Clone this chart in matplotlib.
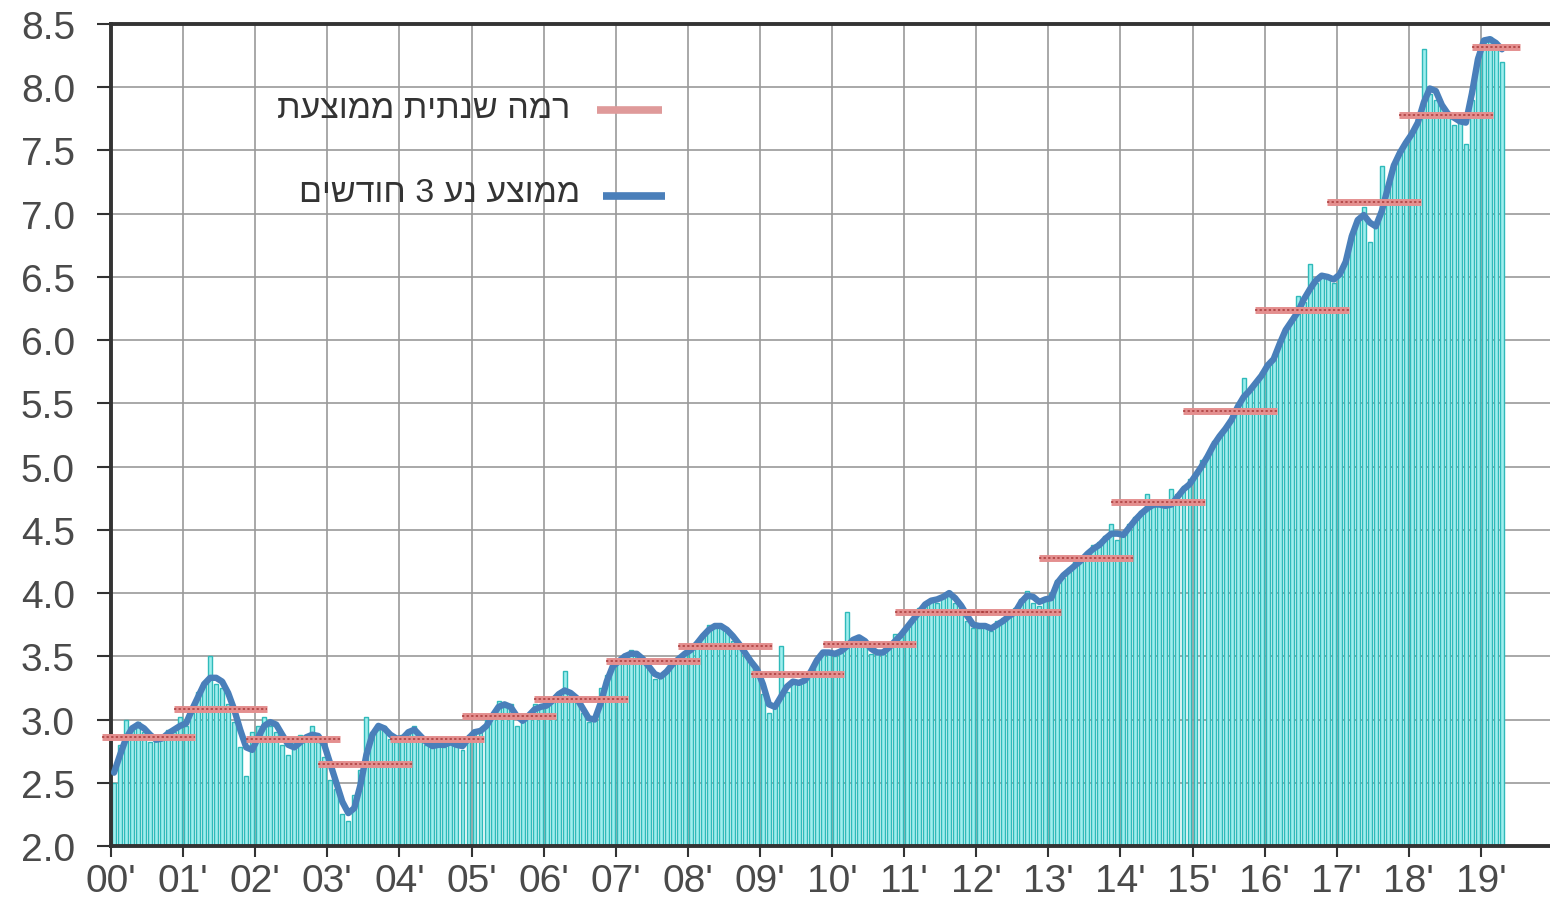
import matplotlib
matplotlib.use("Agg")
import matplotlib.pyplot as plt
from matplotlib.lines import Line2D
import numpy as np

# ---------------- data ----------------
years = list(range(2000, 2020))
year_labels = ["00'", "01'", "02'", "03'", "04'", "05'", "06'", "07'", "08'", "09'",
               "10'", "11'", "12'", "13'", "14'", "15'", "16'", "17'", "18'", "19'"]

# monthly values, Jan 2000 .. Apr 2019
monthly = [
    2.50, 2.80, 3.00, 2.95, 2.98, 2.90, 2.82, 2.85, 2.88, 2.92, 2.90, 3.02,   # 2000
    2.95, 3.05, 3.22, 3.30, 3.50, 3.28, 3.25, 3.12, 2.98, 2.78, 2.55, 2.90,   # 2001
    2.95, 3.02, 2.95, 2.90, 2.80, 2.72, 2.82, 2.88, 2.85, 2.95, 2.82, 2.70,   # 2002
    2.52, 2.45, 2.25, 2.20, 2.40, 2.60, 3.02, 2.90, 2.92, 2.95, 2.85, 2.82,   # 2003
    2.88, 2.92, 2.95, 2.85, 2.80, 2.78, 2.82, 2.78, 2.84, 2.80, 2.76, 2.88,   # 2004
    2.92, 2.90, 3.00, 3.05, 3.15, 3.10, 3.12, 2.95, 3.00, 3.05, 3.12, 3.10,   # 2005
    3.12, 3.18, 3.22, 3.38, 3.15, 3.18, 3.05, 2.98, 3.00, 3.25, 3.35, 3.45,   # 2006
    3.48, 3.52, 3.55, 3.50, 3.45, 3.40, 3.32, 3.35, 3.40, 3.45, 3.50, 3.52,   # 2007
    3.55, 3.62, 3.68, 3.75, 3.72, 3.75, 3.70, 3.62, 3.58, 3.50, 3.45, 3.35,   # 2008
    3.20, 3.05, 3.12, 3.58, 3.22, 3.30, 3.28, 3.32, 3.40, 3.48, 3.55, 3.52,   # 2009
    3.50, 3.55, 3.85, 3.62, 3.62, 3.60, 3.52, 3.55, 3.55, 3.58, 3.68, 3.65,   # 2010
    3.72, 3.80, 3.88, 3.92, 3.95, 3.92, 3.98, 4.02, 3.92, 3.88, 3.78, 3.72,   # 2011
    3.72, 3.75, 3.70, 3.78, 3.80, 3.85, 3.88, 3.95, 4.02, 3.92, 3.90, 3.95,   # 2012
    4.00, 4.10, 4.12, 4.20, 4.25, 4.28, 4.30, 4.38, 4.40, 4.45, 4.55, 4.42,   # 2013
    4.48, 4.55, 4.60, 4.65, 4.78, 4.68, 4.72, 4.68, 4.82, 4.78, 4.85, 4.90,   # 2014
    4.95, 5.05, 5.10, 5.20, 5.25, 5.32, 5.38, 5.50, 5.70, 5.60, 5.68, 5.75,   # 2015
    5.82, 5.85, 6.00, 6.10, 6.15, 6.35, 6.30, 6.60, 6.45, 6.52, 6.50, 6.45,   # 2016
    6.55, 6.65, 6.85, 6.95, 7.05, 6.78, 6.92, 7.38, 7.22, 7.40, 7.50, 7.55,   # 2017
    7.65, 7.75, 8.30, 7.95, 7.90, 7.85, 7.80, 7.70, 7.75, 7.55, 7.90, 8.25,   # 2018
    8.38, 8.40, 8.30, 8.20,                                                   # 2019
]

# 3-month moving average as drawn
moving_avg = [
    2.58, 2.72, 2.85, 2.93, 2.96, 2.93, 2.88, 2.84, 2.85, 2.89, 2.92, 2.95,
    2.97, 3.08, 3.18, 3.28, 3.33, 3.33, 3.30, 3.21, 3.08, 2.92, 2.78, 2.76,
    2.86, 2.95, 2.98, 2.96, 2.88, 2.80, 2.78, 2.82, 2.86, 2.88, 2.87, 2.80,
    2.65, 2.50, 2.35, 2.26, 2.30, 2.48, 2.72, 2.88, 2.95, 2.93, 2.88, 2.85,
    2.85, 2.90, 2.92, 2.87, 2.82, 2.79, 2.80, 2.80, 2.82, 2.80, 2.79, 2.85,
    2.90, 2.91, 2.95, 3.03, 3.10, 3.12, 3.10, 3.03, 2.99, 3.03, 3.08, 3.10,
    3.11, 3.15, 3.20, 3.23, 3.21, 3.17, 3.09, 3.01, 3.00, 3.13, 3.30, 3.42,
    3.46, 3.50, 3.52, 3.52, 3.48, 3.42, 3.36, 3.34, 3.38, 3.44, 3.48, 3.52,
    3.55, 3.60, 3.66, 3.71, 3.74, 3.74, 3.71, 3.66, 3.60, 3.53, 3.46, 3.40,
    3.28, 3.12, 3.10, 3.18, 3.26, 3.30, 3.29, 3.31, 3.38, 3.47, 3.53, 3.53,
    3.52, 3.54, 3.58, 3.63, 3.65, 3.62, 3.56, 3.53, 3.53, 3.57, 3.62, 3.67,
    3.73, 3.79, 3.85, 3.91, 3.94, 3.95, 3.97, 4.00, 3.96, 3.90, 3.82, 3.75,
    3.74, 3.74, 3.72, 3.75, 3.78, 3.82, 3.85, 3.93, 3.98, 3.97, 3.93, 3.95,
    3.96, 4.08, 4.14, 4.18, 4.22, 4.26, 4.31, 4.35, 4.38, 4.43, 4.47, 4.47,
    4.46, 4.52, 4.58, 4.63, 4.67, 4.70, 4.70, 4.69, 4.70, 4.76, 4.82, 4.86,
    4.93, 5.00, 5.08, 5.17, 5.24, 5.30, 5.37, 5.47, 5.55, 5.60, 5.66, 5.72,
    5.80, 5.85, 5.97, 6.08, 6.15, 6.22, 6.32, 6.40, 6.47, 6.51, 6.50, 6.48,
    6.52, 6.62, 6.82, 6.95, 6.99, 6.93, 6.90, 7.02, 7.20, 7.38, 7.48, 7.56,
    7.63, 7.72, 7.88, 7.99, 7.97, 7.86, 7.79, 7.76, 7.73, 7.72, 7.95, 8.22,
    8.37, 8.38, 8.35, 8.30,
]

# annual average level
annual_avg = [2.86, 3.08, 2.85, 2.65, 2.85, 3.03, 3.16, 3.46, 3.58, 3.36,
              3.60, 3.85, 3.85, 4.28, 4.72, 5.44, 6.24, 7.09, 7.78, 8.32]

y_ticks = [2.0, 2.5, 3.0, 3.5, 4.0, 4.5, 5.0, 5.5, 6.0, 6.5, 7.0, 7.5, 8.0, 8.5]
legend_annual = "רמה שנתית ממוצעת"
legend_ma = "ממוצע נע 3 חודשים"

# ---------------- plot ----------------
W, H = 1550, 904
FAM = ["Liberation Sans", "DejaVu Sans"]
fig = plt.figure(figsize=(W / 100, H / 100), dpi=100)
ax = fig.add_axes([111 / W, 1 - 847 / H, 1 - 111 / W, (847 - 25) / H])

n = len(monthly)
xm = (np.arange(n) + 0.5) / 12.0
ax.bar(xm, monthly, width=0.66 / 12, bottom=0, color="#9eeeee",
       edgecolor="#2fbaba", linewidth=1.0, zorder=2)

ax.plot(xm, moving_avg, color="#4a7fba", lw=4.6, solid_capstyle="round",
        solid_joinstyle="round", zorder=4)

last_x = xm[-1] + 0.25
for i, v in enumerate(annual_avg):
    x0 = i - 0.13
    x1 = min(i + 1.17, last_x)
    ax.plot([x0, x1], [v, v], color="#e48f8f", lw=5.0, solid_capstyle="butt",
            zorder=5, clip_on=False)
    ax.plot([x0, x1], [v, v], color="#a83a3a", lw=1.1, ls=(0, (1.5, 1.5)),
            zorder=6, clip_on=False)

ax.set_xlim(0, (W - 111) / 72.1)
ax.set_ylim(2.0, 8.5)
ax.set_yticks(y_ticks)
ax.set_yticklabels([f"{t:.1f}" for t in y_ticks])
ax.set_xticks(range(len(years)))
ax.set_xticklabels(year_labels)

ax.grid(True, color="#9a9a9a", lw=1.2, zorder=0)
ax.set_axisbelow(True)

for s in ["left", "bottom", "top"]:
    ax.spines[s].set_color("#333333")
    ax.spines[s].set_linewidth(2.8)
ax.spines["right"].set_visible(False)

ax.tick_params(axis="y", length=10, width=1.5, color="#333333", pad=16,
               labelsize=28, labelcolor="#4a4a4a")
ax.tick_params(axis="x", length=8, width=1.5, color="#333333", pad=4,
               labelsize=28, labelcolor="#4a4a4a")
for lab in ax.get_xticklabels() + ax.get_yticklabels():
    lab.set_family(FAM)

# legend (Hebrew, visual order)
fig.add_artist(Line2D([597 / W, 662 / W], [1 - 111 / H, 1 - 111 / H],
                      color="#df9a9a", lw=5.5, solid_capstyle="butt"))
fig.add_artist(Line2D([603 / W, 665 / W], [1 - 197 / H, 1 - 197 / H],
                      color="#4a7fba", lw=5.5, solid_capstyle="butt"))
fig.text(570 / W, 1 - 110 / H, legend_annual[::-1], ha="right", va="center",
         fontsize=24.5, color="#333333", family=FAM)
fig.text(580 / W, 1 - 194 / H, legend_ma[::-1], ha="right", va="center",
         fontsize=24.5, color="#333333", family=FAM)

fig.savefig("out.png", dpi=100)
